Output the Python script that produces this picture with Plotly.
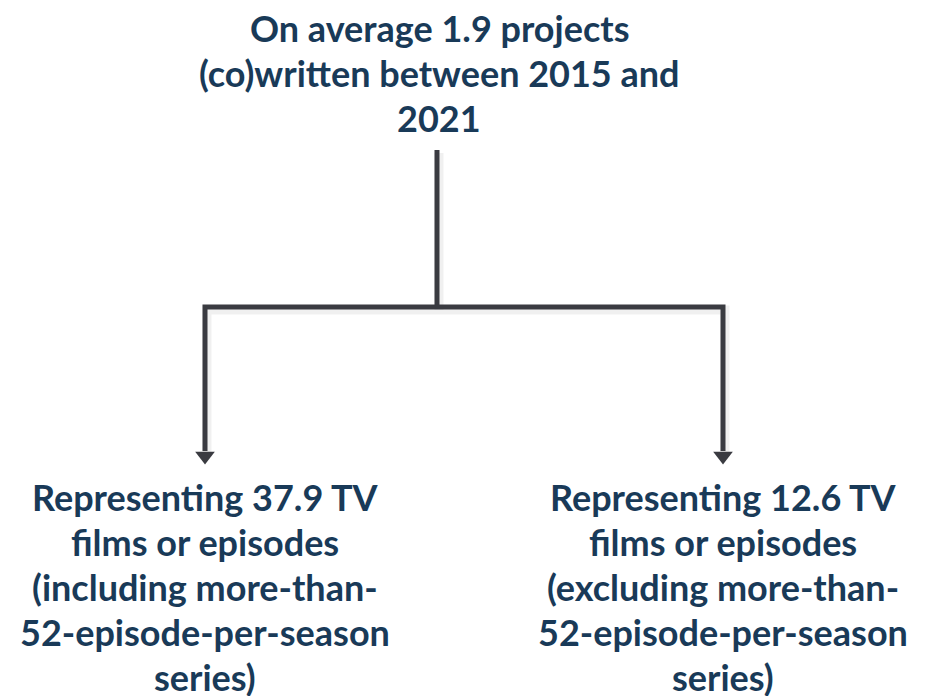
import plotly.graph_objects as go

# diagram content
top_lines = ["On average 1.9 projects", "(co)written between 2015 and", "2021"]
left_lines = ["Representing 37.9 TV", "films or episodes", "(including more-than-",
              "52-episode-per-season", "series)"]
right_lines = ["Representing 12.6 TV", "films or episodes", "(excluding more-than-",
               "52-episode-per-season", "series)"]

# node layout (pixel space of the page)
root_x, root_y = 437, 150
branch_y = 307
child_x = [205, 723]
arrow_tip_y = 463
top_text_y = 28
child_text_y = 497
line_gap = 45

TEXT_COLOR = "#193a58"
LINE_COLOR = "#3a3b41"
FONT = "Lato"
PAGE_OFFSET = 8  # default body margin of the html page

fig = go.Figure()

# connector path: root stem, horizontal bar, two drops
path_x = [root_x, root_x, None, child_x[0], child_x[0], child_x[1], child_x[1]]
path_y = [root_y, branch_y, None, arrow_tip_y - 12, branch_y, branch_y, arrow_tip_y - 12]

# soft shadow
fig.add_trace(go.Scatter(
    x=[v + 2 if v is not None else None for v in path_x],
    y=[v + 3 if v is not None else None for v in path_y],
    mode="lines", line=dict(color="rgba(0,0,0,0.06)", width=9),
    hoverinfo="skip", showlegend=False,
))
fig.add_trace(go.Scatter(
    x=path_x, y=path_y, mode="lines",
    line=dict(color=LINE_COLOR, width=5),
    hoverinfo="skip", showlegend=False,
))
fig.add_trace(go.Scatter(
    x=child_x, y=[arrow_tip_y - 7, arrow_tip_y - 7], mode="markers",
    marker=dict(symbol="triangle-down", size=17, color=LINE_COLOR, line=dict(width=0)),
    hoverinfo="skip", showlegend=False,
))


def add_block(lines, cx, y0):
    for i, txt in enumerate(lines):
        fig.add_annotation(
            x=cx, y=y0 + i * line_gap, text=txt, showarrow=False,
            xanchor="center", yanchor="middle",
            font=dict(family=FONT, size=36, color=TEXT_COLOR, weight="bold"),
        )


add_block(top_lines, root_x + 2, top_text_y)
add_block(left_lines, child_x[0], child_text_y)
add_block(right_lines, child_x[1], child_text_y)

fig.update_layout(
    width=934 - PAGE_OFFSET, height=696 - PAGE_OFFSET,
    margin=dict(t=0, b=0, l=0, r=0),
    paper_bgcolor="white", plot_bgcolor="white",
    xaxis=dict(range=[PAGE_OFFSET, 934], visible=False, fixedrange=True),
    yaxis=dict(range=[696, PAGE_OFFSET], visible=False, fixedrange=True),
    showlegend=False,
)

fig.write_html("out.html")
